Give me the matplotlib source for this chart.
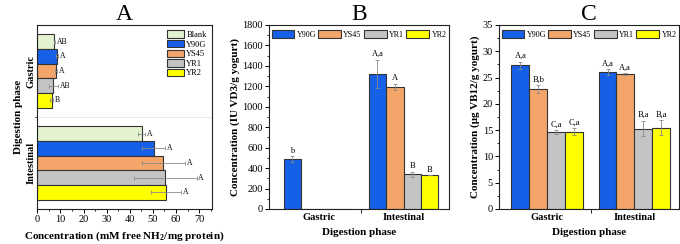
import numpy as np
import matplotlib
matplotlib.use("Agg")
import matplotlib.pyplot as plt
from matplotlib.ticker import MultipleLocator, FixedLocator

plt.rcParams['font.family'] = ['Liberation Serif', 'DejaVu Serif']
plt.rcParams['mathtext.fontset'] = 'custom'
plt.rcParams['mathtext.rm'] = 'Liberation Serif'
plt.rcParams['mathtext.bf'] = 'Liberation Serif:bold'

phases = ["Gastric", "Intestinal"]

# panel A: free amino groups
a_groups = ["Blank", "Y90G", "YS45", "YR1", "YR2"]
a_gastric = [7.4, 8.6, 8.1, 7.0, 6.2]
a_gastric_err = [0.3, 0.5, 0.6, 1.8, 0.5]
a_gastric_lbl = ["AB", "A", "A", "AB", "B"]
a_intest = [45.2, 50.3, 54.6, 55.4, 55.6]
a_intest_err = [1.5, 4.8, 9.2, 13.5, 6.5]
a_intest_lbl = ["A", "A", "A", "A", "A"]

# panel B: vitamin D3
b_groups = ["Y90G", "YS45", "YR1", "YR2"]
b_gastric = [490, 0, 0, 0]
b_gastric_err = [28, 0, 0, 0]
b_gastric_lbl = ["b", "", "", ""]
b_intest = [1320, 1195, 340, 330]
b_intest_err = [140, 30, 25, 0]
b_intest_lbl = ["A,a", "A", "B", "B"]

# panel C: vitamin B12
c_gastric = [27.3, 22.8, 14.6, 14.7]
c_gastric_err = [0.7, 0.7, 0.4, 0.7]
c_gastric_lbl = ["A,a", "B,b", "C,a", "C,a"]
c_intest = [26.0, 25.6, 15.3, 15.5]
c_intest_err = [0.6, 0.2, 1.5, 1.4]
c_intest_lbl = ["A,a", "A,a", "B,a", "B,a"]

colors = {"Blank": "#e4f3cf", "Y90G": "#1660e8", "YS45": "#f4a56a",
          "YR1": "#c4c4c4", "YR2": "#ffff00"}
edge = "#333333"
ecol = "#8a8a8a"

fig = plt.figure(figsize=(6.8, 2.44), dpi=100)


def style(ax):
    for s in ax.spines.values():
        s.set_linewidth(0.8)
        s.set_color("#222222")
    ax.tick_params(labelsize=7.5, length=3, width=0.7, pad=1.5)
    ax.tick_params(which="minor", length=1.6, width=0.6)


# ---------- A ----------
axA = fig.add_axes([37.3 / 680, 35 / 244, 174.7 / 680, 184 / 244])
h = 0.16
for i, g in enumerate(a_groups):
    ys = np.arange(2) - 0.4 + h / 2 + i * h
    vals = [a_gastric[i], a_intest[i]]
    errs = [a_gastric_err[i], a_intest_err[i]]
    lbls = [a_gastric_lbl[i], a_intest_lbl[i]]
    axA.barh(ys, vals, height=h, color=colors[g], edgecolor=edge, linewidth=0.8, label=g)
    axA.errorbar(vals, ys, xerr=errs, fmt="none", ecolor=ecol, elinewidth=0.6, capsize=1.2, capthick=0.6)
    for y, v, e, t in zip(ys, vals, errs, lbls):
        axA.text(v + e + 0.8, y, t, fontsize=5.5, va="center", ha="left")
axA.set_ylim(1.5, -0.5)
axA.set_xlim(0, 75.6)
axA.set_yticks([0, 1])
axA.set_yticklabels(phases, rotation=90, va="center", fontweight="bold", fontsize=8)
axA.yaxis.set_minor_locator(FixedLocator([0.5]))
axA.axhline(0.5, color="#e6e6e6", lw=0.6, zorder=0)
axA.xaxis.set_major_locator(MultipleLocator(10))
axA.xaxis.set_minor_locator(MultipleLocator(5))
style(axA)
axA.tick_params(axis="y", which="major", length=0)
axA.set_xlabel("Concentration (mM free NH$_\\mathbf{2}$/mg protein)", fontweight="bold", fontsize=8, labelpad=4)
axA.set_ylabel("Digestion phase", fontweight="bold", fontsize=8, labelpad=2)
axA.set_title("A", fontsize=17, pad=2)
axA.legend(loc="upper right", frameon=False, fontsize=6, handlelength=2.0, handleheight=1.0,
           labelspacing=0.12, handletextpad=0.3, borderaxespad=0.25)


def vbars(ax, gast, gerr, glbl, inte, ierr, ilbl, off):
    w = 0.205
    for i, g in enumerate(b_groups):
        xs = np.arange(2) - 1.5 * w + i * w
        vals = [gast[i], inte[i]]
        errs = [gerr[i], ierr[i]]
        lbls = [glbl[i], ilbl[i]]
        ax.bar(xs, vals, width=w, color=colors[g], edgecolor=edge, linewidth=0.8, label=g)
        ax.errorbar(xs, vals, yerr=errs, fmt="none", ecolor=ecol, elinewidth=0.6, capsize=1.2, capthick=0.6)
        for x, v, e, t in zip(xs, vals, errs, lbls):
            if t:
                ax.text(x, v + e + off, t, fontsize=6, ha="center", va="bottom")
    ax.set_xticks([0, 1])
    ax.set_xticklabels(phases, fontweight="bold", fontsize=8)
    ax.xaxis.set_minor_locator(FixedLocator([0.5]))
    style(ax)
    ax.tick_params(axis="x", which="major", length=0, pad=3)
    ax.tick_params(axis="x", which="minor", length=3)
    ax.set_xlabel("Digestion phase", fontweight="bold", fontsize=8, labelpad=4)
    ax.legend(loc="upper center", ncol=4, frameon=False, fontsize=5.8, handlelength=2.8,
              handleheight=1.1, columnspacing=0.3, handletextpad=0.3, borderaxespad=0.25)


# ---------- B ----------
axB = fig.add_axes([269.3 / 680, 35 / 244, 179.4 / 680, 184 / 244])
vbars(axB, b_gastric, b_gastric_err, b_gastric_lbl, b_intest, b_intest_err, b_intest_lbl, 15)
axB.set_xlim(-0.58, 1.53)
axB.set_ylim(0, 1800)
axB.yaxis.set_major_locator(MultipleLocator(200))
axB.yaxis.set_minor_locator(MultipleLocator(100))
axB.set_ylabel("Concentration (IU VD3/g yogurt)", fontweight="bold", fontsize=8, labelpad=2)
axB.set_title("B", fontsize=17, pad=2)

# ---------- C ----------
axC = fig.add_axes([499.3 / 680, 35 / 244, 179.4 / 680, 184 / 244])
vbars(axC, c_gastric, c_gastric_err, c_gastric_lbl, c_intest, c_intest_err, c_intest_lbl, 0.3)
axC.set_xlim(-0.55, 1.51)
axC.set_ylim(0, 35)
axC.yaxis.set_major_locator(MultipleLocator(5))
axC.yaxis.set_minor_locator(MultipleLocator(2.5))
axC.set_ylabel("Concentration (\u03bcg VB12/g yogurt)", fontweight="bold", fontsize=8, labelpad=2)
axC.set_title("C", fontsize=17, pad=2)

fig.savefig("out.png", dpi=100)
